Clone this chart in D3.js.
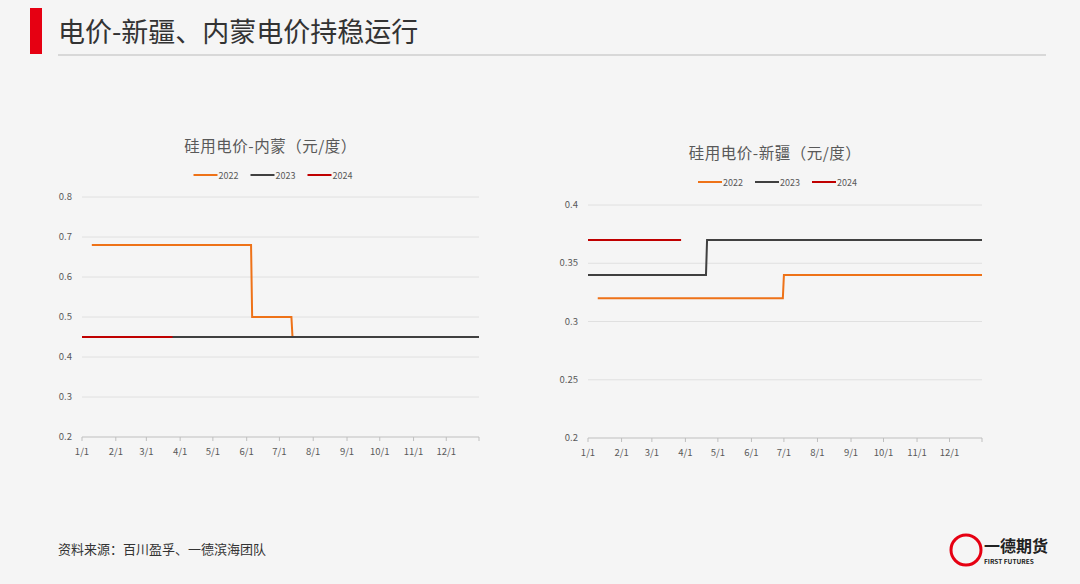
<!DOCTYPE html>
<html><head><meta charset="utf-8">
<script src="https://cdn.jsdelivr.net/npm/d3@7"></script>
<style>body{margin:0;background:#f5f5f5;font-family:"Noto Sans CJK SC","Noto Sans",sans-serif}</style>
</head><body><svg id="c" width="1080" height="584"></svg>
<script>
const seriesNames = ["2022","2023","2024"];
const seriesColors = ["#ee7218","#404040","#c00000"];
const monthTicks = ["1/1","2/1","3/1","4/1","5/1","6/1","7/1","8/1","9/1","10/1","11/1","12/1"];
const nm2022 = [["1/10",0.68],["6/5",0.68],["6/6",0.5],["7/12",0.5],["7/13",0.45]];
const nm2023 = [["1/1",0.45],["12/31",0.45]];
const nm2024 = [["1/1",0.45],["3/25",0.45]];
const xj2022 = [["1/10",0.32],["6/30",0.32],["7/1",0.34],["12/31",0.34]];
const xj2023 = [["1/1",0.34],["4/20",0.34],["4/21",0.37],["12/31",0.37]];
const xj2024 = [["1/1",0.37],["3/28",0.37]];
const nmTicks = [0.2,0.3,0.4,0.5,0.6,0.7,0.8];
const xjTicks = [0.2,0.25,0.3,0.35,0.4];

const svg = d3.select("#c");
const parse = s => { const [m,d]=s.split("/").map(Number); return new Date(2023,m-1,d); };

svg.append("rect").attr("x",30).attr("y",8).attr("width",12).attr("height",46).attr("fill","#e60012");
svg.append("text").attr("x",58).attr("y",42).attr("font-size",27).attr("fill","#333").text("电价-新疆、内蒙电价持稳运行");
svg.append("line").attr("x1",58).attr("x2",1046).attr("y1",55).attr("y2",55).attr("stroke","#bbb");
svg.append("text").attr("x",58).attr("y",554).attr("font-size",13).attr("fill","#333").text("资料来源：百川盈孚、一德滨海团队");
const lg = svg.append("g");
lg.append("circle").attr("cx",966).attr("cy",550).attr("r",15).attr("fill","none").attr("stroke","#e60012").attr("stroke-width",3);
lg.append("text").attr("x",984).attr("y",552).attr("font-size",16).attr("font-weight","bold").attr("fill","#222").text("一德期货");
lg.append("text").attr("x",984).attr("y",564).attr("font-size",6.5).attr("font-weight","bold").attr("fill","#222").text("FIRST FUTURES");

function chart(cfg){
  const x = d3.scaleTime().domain([new Date(2023,0,1),new Date(2023,11,31)]).range([cfg.x0,cfg.x1]);
  const y = d3.scaleLinear().domain([cfg.ticks[0],cfg.ticks[cfg.ticks.length-1]]).range([cfg.y0,cfg.y1]);
  const g = svg.append("g");
  g.append("text").attr("x",(cfg.x0+cfg.x1)/2-10).attr("y",cfg.titleY).attr("text-anchor","middle").attr("font-size",15.5).attr("letter-spacing",0.5).attr("fill","#595959").text(cfg.title);
  const lx = (cfg.x0+cfg.x1)/2 - 87;
  seriesNames.forEach((n,i)=>{
    const xx = lx + i*57;
    g.append("line").attr("x1",xx).attr("x2",xx+24).attr("y1",cfg.titleY+23).attr("y2",cfg.titleY+23).attr("stroke",seriesColors[i]).attr("stroke-width",2);
    g.append("text").attr("x",xx+25).attr("y",cfg.titleY+26.5).attr("font-size",9).attr("fill","#595959").text(n);
  });
  cfg.ticks.forEach(t=>{
    g.append("line").attr("x1",cfg.x0).attr("x2",cfg.x1).attr("y1",y(t)).attr("y2",y(t)).attr("stroke",t===cfg.ticks[0]?"#bfbfbf":"#e0e0e0");
    g.append("text").attr("x",cfg.x0-10).attr("y",y(t)+3).attr("text-anchor","end").attr("font-size",9.5).attr("fill","#595959").text(t);
  });
  monthTicks.forEach(m=>{
    const xx = x(parse(m));
    g.append("line").attr("x1",xx).attr("x2",xx).attr("y1",cfg.y0).attr("y2",cfg.y0+4).attr("stroke","#bfbfbf");
    g.append("text").attr("x",xx).attr("y",cfg.y0+18).attr("text-anchor","middle").attr("font-size",9.5).attr("fill","#595959").text(m);
  });
  g.append("line").attr("x1",cfg.x1).attr("x2",cfg.x1).attr("y1",cfg.y0).attr("y2",cfg.y0+4).attr("stroke","#bfbfbf");
  const line = d3.line().x(d=>x(parse(d[0]))).y(d=>y(d[1]));
  cfg.data.forEach((d,i)=>{
    g.append("path").attr("d",line(d)).attr("fill","none").attr("stroke",seriesColors[i]).attr("stroke-width",2);
  });
}
chart({x0:82,x1:479,y0:437,y1:197,ticks:nmTicks,title:"硅用电价-内蒙（元/度）",titleY:152,data:[nm2022,nm2023,nm2024]});
chart({x0:588,x1:982,y0:438,y1:205,ticks:xjTicks,title:"硅用电价-新疆（元/度）",titleY:159,data:[xj2022,xj2023,xj2024]});
</script></body></html>
